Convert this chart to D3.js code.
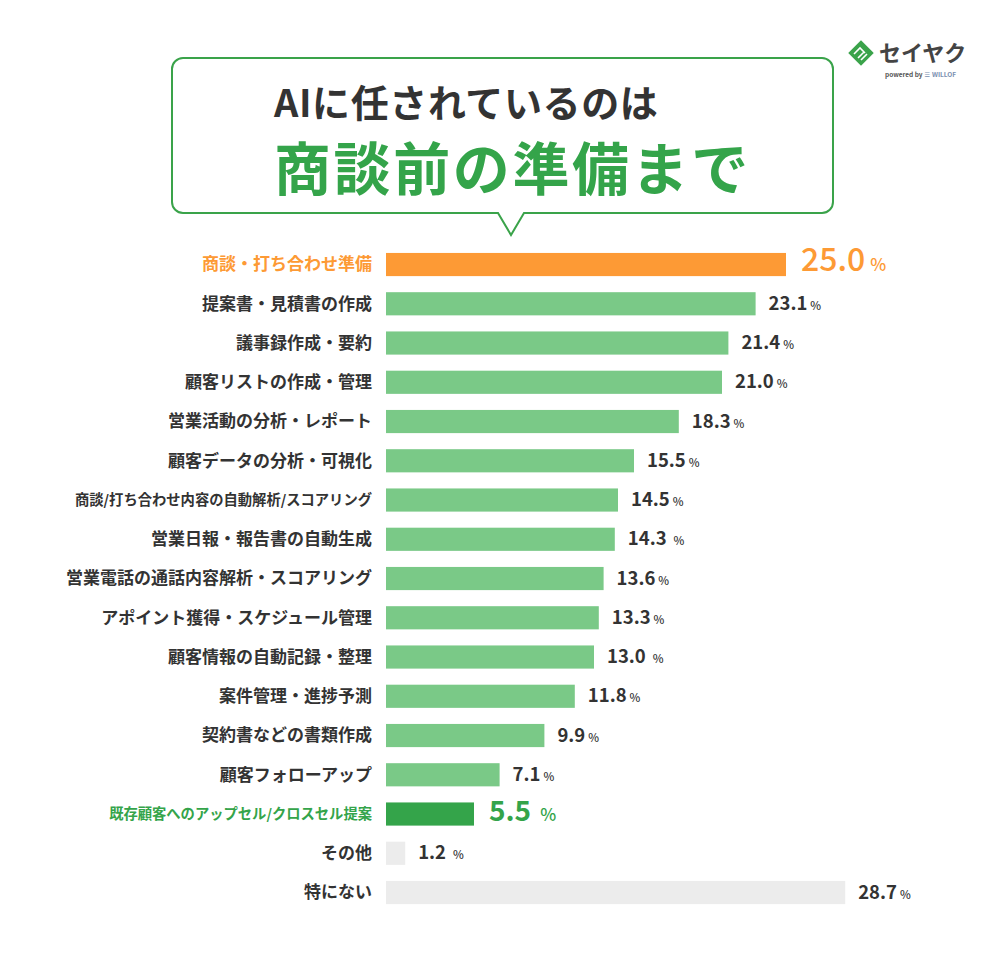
<!DOCTYPE html>
<html><head><meta charset="utf-8">
<script src="https://cdn.jsdelivr.net/npm/d3@7"></script>
<style>
html,body{margin:0;padding:0;background:#fff;}
svg{display:block;font-family:"Noto Sans CJK JP","Noto Sans",sans-serif;}
</style></head>
<body><svg id="c" width="1006" height="959"></svg>
<script>
const categories = [
  "商談・打ち合わせ準備","提案書・見積書の作成","議事録作成・要約","顧客リストの作成・管理",
  "営業活動の分析・レポート","顧客データの分析・可視化","商談/打ち合わせ内容の自動解析/スコアリング",
  "営業日報・報告書の自動生成","営業電話の通話内容解析・スコアリング","アポイント獲得・スケジュール管理",
  "顧客情報の自動記録・整理","案件管理・進捗予測","契約書などの書類作成","顧客フォローアップ",
  "既存顧客へのアップセル/クロスセル提案","その他","特にない"
];
const values = [25.0,23.1,21.4,21.0,18.3,15.5,14.5,14.3,13.6,13.3,13.0,11.8,9.9,7.1,5.5,1.2,28.7];
const valueLabels = ["25.0","23.1","21.4","21.0","18.3","15.5","14.5","14.3","13.6","13.3","13.0","11.8","9.9","7.1","5.5","1.2","28.7"];
const pctGap = [false,false,false,false,false,false,false,true,false,false,true,false,false,false,true,true,false];
// kind: h = orange highlight, g = dark green highlight, n = normal, o = other(gray)
const kinds = ["h","n","n","n","n","n","n","n","n","n","n","n","n","n","g","o","o"];
const smallLabel = [false,false,false,false,false,false,true,false,false,false,false,false,false,false,true,false,false];
const titleLine1 = "AIに任されているのは";
const titleLine2 = "商談前の準備まで";

const C = {orange:"#fd9a35", green:"#7ac987", dgreen:"#34a44a", gray:"#ececec", text:"#333333", box:"#3aa34a"};
const svg = d3.select("#c");

// ---- Title speech bubble
const bx0=172, bx1=833, by0=58, by1=213, r=11, tx0=498, tx1=524, tipX=511, tipY=235;
const p = d3.path();
p.moveTo(bx0+r,by0); p.lineTo(bx1-r,by0); p.arcTo(bx1,by0,bx1,by0+r,r);
p.lineTo(bx1,by1-r); p.arcTo(bx1,by1,bx1-r,by1,r);
p.lineTo(tx1,by1); p.lineTo(tipX,tipY); p.lineTo(tx0,by1);
p.lineTo(bx0+r,by1); p.arcTo(bx0,by1,bx0,by1-r,r);
p.lineTo(bx0,by0+r); p.arcTo(bx0,by0,bx0+r,by0,r); p.closePath();
svg.append("path").attr("d",p.toString()).attr("fill","#fff").attr("stroke",C.box).attr("stroke-width",2);
svg.append("text").attr("x",274).attr("y",117).attr("font-size",38).attr("font-weight",700)
  .attr("letter-spacing",0.6).attr("fill",C.text).text(titleLine1);
svg.append("text").attr("x",274).attr("y",190).attr("font-size",57).attr("font-weight",700)
  .attr("letter-spacing",2.6).attr("fill",C.dgreen).text(titleLine2);

// ---- Logo
const lg = svg.append("g").attr("transform","translate(861,53)");
lg.append("rect").attr("x",-9).attr("y",-9).attr("width",18).attr("height",18)
  .attr("transform","rotate(45)").attr("fill","#3aa34a");
lg.append("path").attr("d","M-7,1 L-1,-5 L4,0 M-3,5 L3,-1 M0,7 L6,1").attr("stroke","#fff").attr("stroke-width",1.6).attr("fill","none");
svg.append("text").attr("x",879).attr("y",61).attr("font-size",22).attr("font-weight",700)
  .attr("fill","#444").text("セイヤク");
svg.append("text").attr("x",885).attr("y",77).attr("font-size",6.5).attr("font-weight",700)
  .attr("fill","#555").text("powered by");
svg.append("text").attr("x",924).attr("y",77).attr("font-size",6.5).attr("font-weight",700)
  .attr("fill","#7a8fb0").text("≡ WILLOF");

// ---- Bars
const step = 39.25, y0 = 244.9, pad = 0.41;
const y = d3.scaleBand().domain(categories).range([y0, y0+step*categories.length])
  .paddingInner(pad).paddingOuter(pad/2);
const x = d3.scaleLinear().domain([0,25]).range([386,786]);

const fillOf = k => k==="h"?C.orange:k==="g"?C.dgreen:k==="o"?C.gray:C.green;
const data = categories.map((c,i)=>({c,v:values[i],lab:valueLabels[i],gap:pctGap[i],k:kinds[i],s:smallLabel[i]}));

svg.append("g").selectAll("rect").data(data).join("rect")
  .attr("x",x(0)).attr("y",d=>y(d.c)).attr("width",d=>x(d.v)-x(0)).attr("height",y.bandwidth())
  .attr("fill",d=>fillOf(d.k));

// category labels
svg.append("g").selectAll("text").data(data).join("text")
  .attr("x",372).attr("y",d=>y(d.c)+y.bandwidth()/2).attr("dy","0.35em")
  .attr("text-anchor","end").attr("font-weight",700)
  .attr("font-size",d=>d.s?14.3:17)
  .attr("fill",d=>d.k==="h"?C.orange:d.k==="g"?C.dgreen:C.text)
  .text(d=>d.c);

// value labels
const vl = svg.append("g").selectAll("text").data(data).join("text")
  .attr("x",d=>x(d.v)+(d.k==="h"||d.k==="g"?15:13))
  .attr("y",d=>y(d.c)+y.bandwidth()/2).attr("dy",d=>d.k==="h"||d.k==="g"?"0.42em":"0.38em")
  .attr("fill",d=>d.k==="h"?C.orange:d.k==="g"?C.dgreen:C.text);
vl.append("tspan").attr("font-weight",d=>d.k==="h"?500:700)
  .attr("font-size",d=>d.k==="h"?32:d.k==="g"?28:18.5).text(d=>d.lab);
vl.append("tspan").attr("font-weight",500)
  .attr("font-size",d=>d.k==="h"||d.k==="g"?17:11.5)
  .attr("dx",d=>(d.gap?(d.k==="g"?9:7):(d.k==="h"?5:3))).text("%");
</script></body></html>
